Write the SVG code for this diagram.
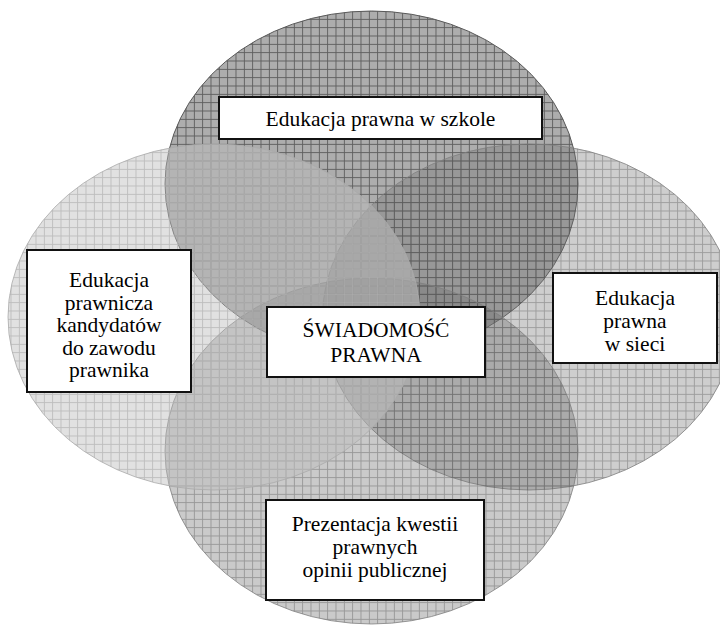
<svg xmlns="http://www.w3.org/2000/svg" width="720" height="626" viewBox="0 0 720 626">
<style>
.box{fill:#ffffff;stroke:#111111;stroke-width:2}
.t{font-family:'Liberation Serif','Times New Roman',Times,serif;font-size:21.5px;fill:#000000;text-anchor:middle}
.gl{fill:none;stroke-width:1;shape-rendering:crispEdges}
</style>
<defs>
<pattern id="gTop" patternUnits="userSpaceOnUse" width="8.333" height="8.333" x="2.2" y="2.2"><path class="gl" d="M0 0.5H8.333M0.5 0V8.333" stroke="#5e5e5e"/></pattern>
<pattern id="gRight" patternUnits="userSpaceOnUse" width="8.333" height="8.333" x="2.2" y="2.2"><path class="gl" d="M0 0.5H8.333M0.5 0V8.333" stroke="#505050" stroke-opacity="0.4"/></pattern>
<pattern id="gBottom" patternUnits="userSpaceOnUse" width="8.333" height="8.333" x="2.2" y="2.2"><path class="gl" d="M0 0.5H8.333M0.5 0V8.333" stroke="#4a4a4a" stroke-opacity="0.4"/></pattern>
<pattern id="gLeft" patternUnits="userSpaceOnUse" width="8.333" height="8.333" x="2.2" y="2.2"><path class="gl" d="M0 0.5H8.333M0.5 0V8.333" stroke="#b4b4b4" stroke-opacity="0.8"/></pattern>
</defs>
<g id="connectors"></g>
<g id="node-top">
<ellipse cx="371.5" cy="184" rx="206.5" ry="173" fill="#adadad"/>
<ellipse cx="371.5" cy="184" rx="206.5" ry="173" fill="url(#gTop)" stroke="#5a5a5a" stroke-width="1"/>
<rect class="box" x="219" y="97" width="323" height="42"/>
<text class="t" x="380.5" y="126">Edukacja prawna w szkole</text>
</g>
<g id="node-right">
<ellipse cx="529" cy="317" rx="206.5" ry="173" fill="#6e6e6e" fill-opacity="0.34"/>
<ellipse cx="529" cy="317" rx="206.5" ry="173" fill="url(#gRight)" stroke="#808080" stroke-opacity="0.8" stroke-width="1"/>
<rect class="box" x="553" y="273" width="164" height="90"/>
<text class="t" x="635" y="305">Edukacja</text>
<text class="t" x="635" y="328">prawna</text>
<text class="t" x="635" y="351">w sieci</text>
</g>
<g id="node-bottom">
<ellipse cx="371.5" cy="451" rx="206.5" ry="173" fill="#747474" fill-opacity="0.38"/>
<ellipse cx="371.5" cy="451" rx="206.5" ry="173" fill="url(#gBottom)" stroke="#808080" stroke-opacity="0.8" stroke-width="1"/>
<rect class="box" x="266" y="500" width="218" height="100"/>
<text class="t" x="375" y="531">Prezentacja kwestii</text>
<text class="t" x="375" y="554">prawnych</text>
<text class="t" x="375" y="577">opinii publicznej</text>
</g>
<g id="node-left">
<ellipse cx="214" cy="317" rx="206" ry="173" fill="#bcbcbc" fill-opacity="0.45"/>
<ellipse cx="214" cy="317" rx="206" ry="173" fill="url(#gLeft)" stroke="#aaaaaa" stroke-opacity="0.8" stroke-width="1"/>
<rect class="box" x="27" y="250" width="164" height="142"/>
<text class="t" x="109" y="287">Edukacja</text>
<text class="t" x="109" y="309.5">prawnicza</text>
<text class="t" x="109" y="332">kandydatów</text>
<text class="t" x="109" y="354.5">do zawodu</text>
<text class="t" x="109" y="377">prawnika</text>
</g>
<g id="node-center">
<rect class="box" x="267" y="307" width="218" height="70"/>
<text class="t" x="376" y="337">ŚWIADOMOŚĆ</text>
<text class="t" x="376" y="362">PRAWNA</text>
</g>
</svg>
